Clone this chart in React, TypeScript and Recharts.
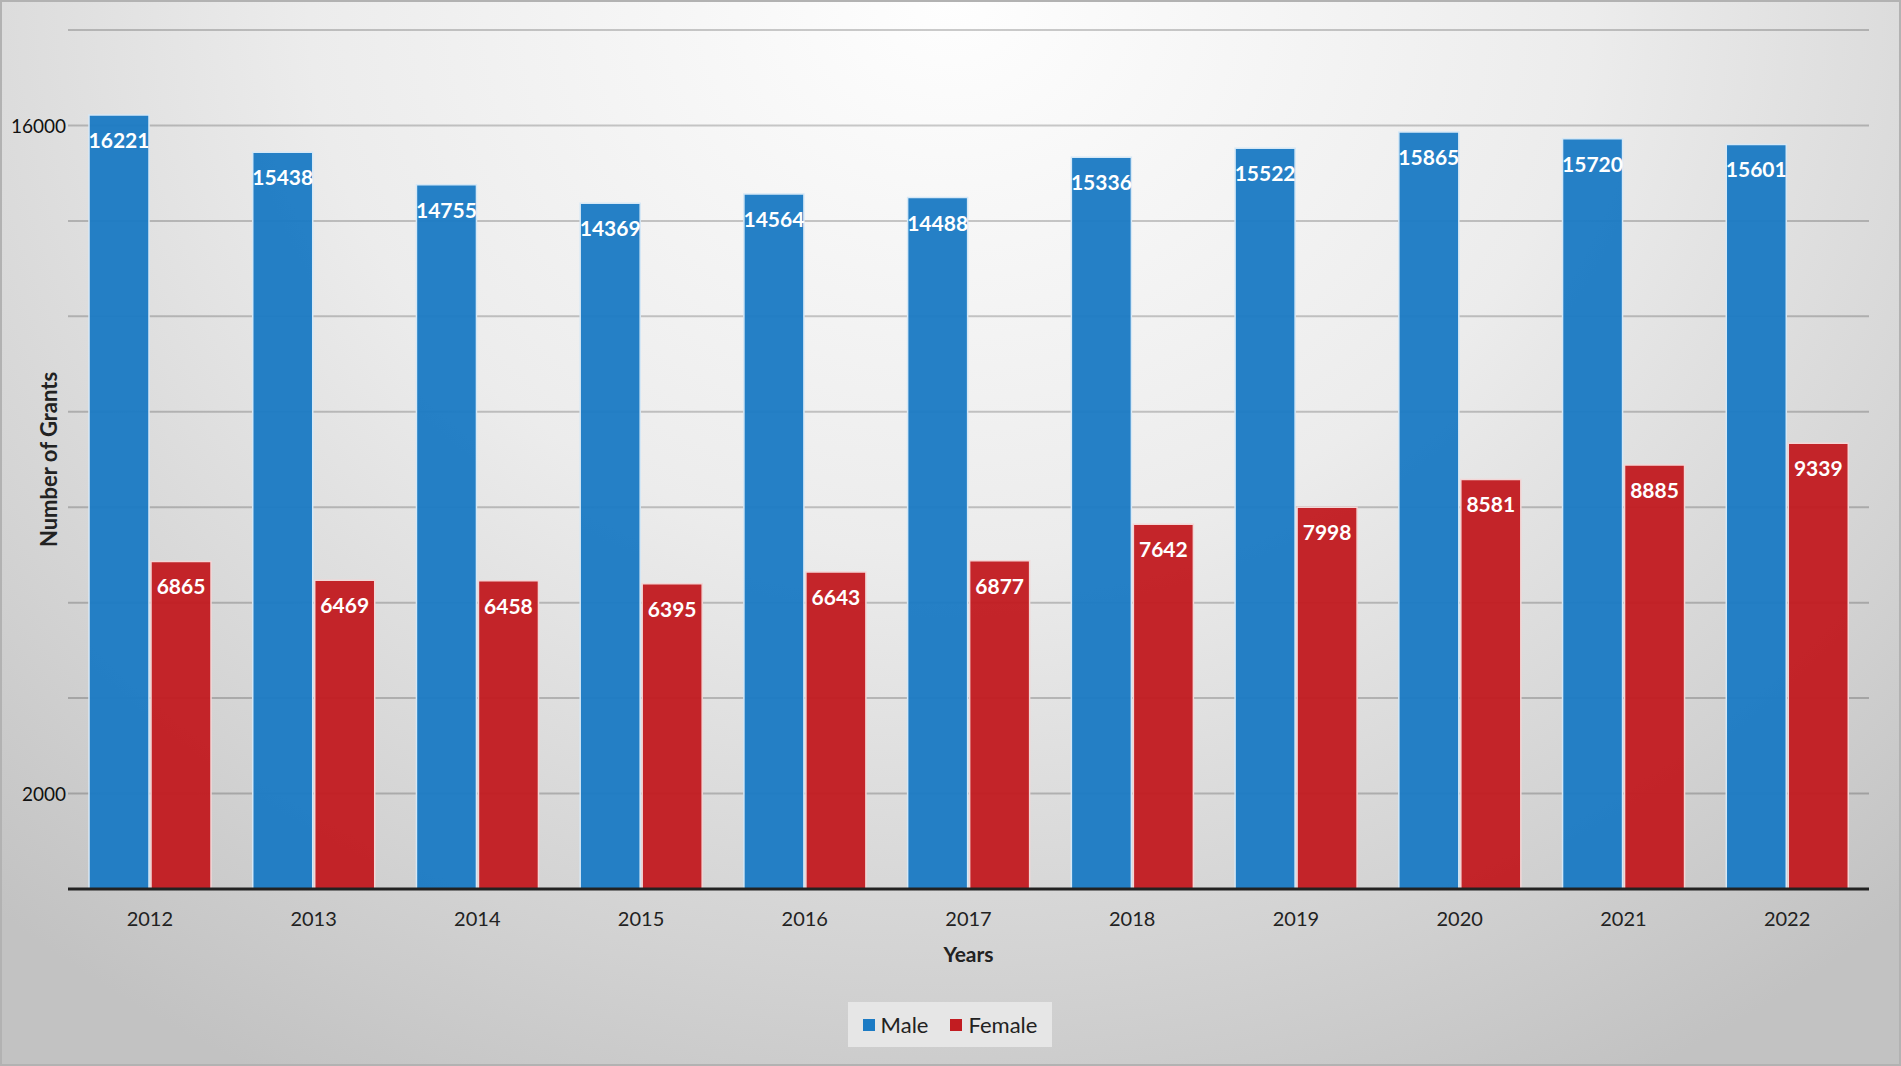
import React from "react";
import { Bar, BarChart, CartesianGrid, LabelList, XAxis, YAxis } from "recharts";

const years = ["2012", "2013", "2014", "2015", "2016", "2017", "2018", "2019", "2020", "2021", "2022"];
const male = [16221, 15438, 14755, 14369, 14564, 14488, 15336, 15522, 15865, 15720, 15601];
const female = [6865, 6469, 6458, 6395, 6643, 6877, 7642, 7998, 8581, 8885, 9339];
const yGridTicks = [0, 2000, 4000, 6000, 8000, 10000, 12000, 14000, 16000, 18000];
const yLabeledTicks = [2000, 16000];

const BLUE = "#1c7bc4";
const RED = "#c21c21";
const FONT = "Lato, 'Open Sans', sans-serif";

const data = years.map((year, i) => ({ year, male: male[i], female: female[i] }));

const YTick = ({ x, y, payload }: any) => {
  if (!yLabeledTicks.includes(payload.value)) return <g />;
  return (
    <text x={x} y={y} textAnchor="end" dominantBaseline="central" fontSize={19} fill="#111" fontFamily={FONT}>
      {payload.value}
    </text>
  );
};

const YTitle = ({ viewBox }: any) => {
  const cy = viewBox.y + viewBox.height / 2;
  return (
    <text
      x={57}
      y={cy}
      transform={`rotate(-90, 57, ${cy})`}
      textAnchor="middle"
      fontSize={22}
      fontWeight={700}
      fill="#222"
      fontFamily={FONT}
    >
      Number of Grants
    </text>
  );
};

export default function App() {
  return (
    <div
      style={{
        position: "absolute",
        top: 0,
        left: 0,
        width: 1901,
        height: 1066,
        background:
          "radial-gradient(ellipse 75% 115% at 50% 0%, #fefefe 0%, #ececec 45%, #d2d2d2 80%, #c2c2c2 100%)",
        boxShadow: "inset 0 0 0 2px #b2b2b2",
        fontFamily: FONT,
      }}
    >
      <BarChart
        width={1901}
        height={1066}
        data={data}
        margin={{ top: 30, right: 32, bottom: 0, left: 0 }}
        barSize={60}
        barGap={2}
      >
        <CartesianGrid vertical={false} stroke="rgba(0,0,0,0.2)" strokeWidth={2} />
        <XAxis
          dataKey="year"
          height={177}
          axisLine={{ stroke: "#222", strokeWidth: 3 }}
          tickLine={false}
          tickMargin={17}
          tick={{ fontSize: 20, fill: "#222", fontFamily: FONT }}
          label={{
            value: "Years",
            position: "insideTop",
            offset: 58,
            fontSize: 21,
            fontWeight: 700,
            fill: "#222",
            fontFamily: FONT,
          }}
        />
        <YAxis
          width={68}
          domain={[0, 18000]}
          ticks={yGridTicks}
          interval={0}
          axisLine={false}
          tickLine={false}
          tickSize={0}
          tickMargin={2}
          tick={<YTick />}
          label={<YTitle />}
        />
        <Bar dataKey="male" name="Male" fill={BLUE} fillOpacity={0.96} stroke="#d6e8f6" strokeWidth={1.5} isAnimationActive={false}>
          <LabelList dataKey="male" position="insideTop" offset={18} fill="#fff" fontSize={21} fontWeight={700} fontFamily={FONT} />
        </Bar>
        <Bar dataKey="female" name="Female" fill={RED} fillOpacity={0.96} stroke="#f3d6d6" strokeWidth={1.5} isAnimationActive={false}>
          <LabelList dataKey="female" position="insideTop" offset={18} fill="#fff" fontSize={21} fontWeight={700} fontFamily={FONT} />
        </Bar>
      </BarChart>
      <div
        style={{
          position: "absolute",
          left: 848,
          top: 1002,
          width: 204,
          height: 45,
          background: "#e6e6e6",
          display: "flex",
          alignItems: "center",
          justifyContent: "center",
          gap: 22,
          fontSize: 22,
          color: "#222",
        }}
      >
        {[
          { name: "Male", color: BLUE },
          { name: "Female", color: RED },
        ].map((s) => (
          <span key={s.name} style={{ display: "flex", alignItems: "center", gap: 6 }}>
            <span style={{ width: 12, height: 12, background: s.color, display: "inline-block" }} />
            {s.name}
          </span>
        ))}
      </div>
    </div>
  );
}
